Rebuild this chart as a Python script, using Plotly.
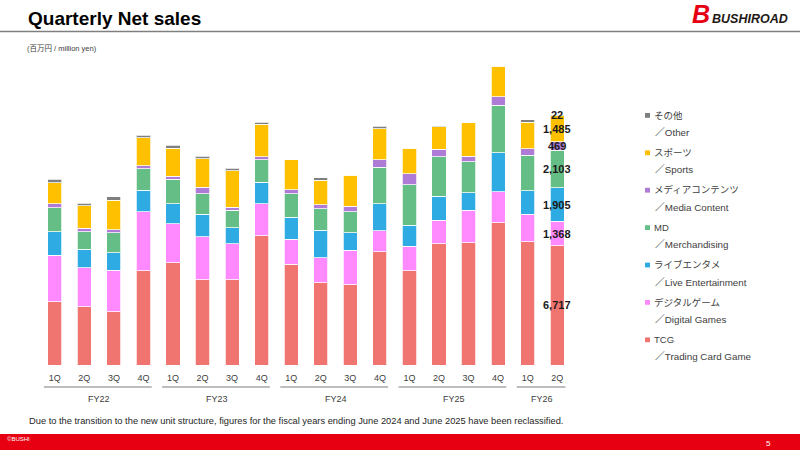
import plotly.graph_objects as go

# ---------------- data (million yen) ----------------
fiscal_years = ["FY22", "FY23", "FY24", "FY25", "FY26"]
quarters_per_year = [4, 4, 4, 4, 2]
quarter_labels = ["1Q", "2Q", "3Q", "4Q",
                  "1Q", "2Q", "3Q", "4Q",
                  "1Q", "2Q", "3Q", "4Q",
                  "1Q", "2Q", "3Q", "4Q",
                  "1Q", "2Q"]

tcg     = [3560, 3280, 3000, 5320, 5750, 4800, 4810, 7290, 5680, 4630, 4520, 6370, 5300, 6840, 6880, 8010, 6940, 6717]
digital = [2630, 2200, 2330, 3310, 2200, 2420, 2030, 1800, 1390, 1420, 1930, 1180, 1390, 1300, 1840, 1750, 1540, 1368]
live    = [1310, 1030, 1000, 1200, 1130, 1260,  880, 1200, 1240, 1540, 1000, 1520, 1180, 1370,  980, 2200, 1330, 1905]
md      = [1350, 1000, 1130, 1220, 1370, 1180,  990, 1280, 1330, 1210, 1180, 2080, 2290, 2220, 1750, 2680, 2000, 2103]
media   = [ 230,  190,  170,  170,  190,  350,  190,  150,  240,  230,  300,  410,  600,  410,  320,  470,  380,  469]
sports  = [1180, 1260, 1650, 1590, 1580, 1620, 2040, 1840, 1690, 1370, 1760, 1750, 1460, 1280, 1880, 1720, 1480, 1485]
other   = [ 190,  150,  190,  130,  150,  130,  130,  110,    0,  150,    0,  130,    0,   70,    0,    0,  140,   22]

segments_bottom_to_top = [
    ("TCG", "／Trading Card Game", tcg),
    ("デジタルゲーム", "／Digital Games", digital),
    ("ライブエンタメ", "／Live Entertainment", live),
    ("MD", "／Merchandising", md),
    ("メディアコンテンツ", "／Media Content", media),
    ("スポーツ", "／Sports", sports),
    ("その他", "／Other", other),
]

title_text = "Quarterly Net sales"
unit_text = "(百万円 / million yen)"
note_text = ("Due to the transition to the new unit structure, figures for the fiscal years "
             "ending June 2024 and June 2025 have been reclassified.")

# ---------------- style ----------------
colors = ["#F07571", "#FF8AFF", "#2EABE2", "#65BE86", "#AE7CD7", "#FFC000", "#7F7F7F"]
FONT = "Liberation Sans, Arial, Noto Sans CJK JP, sans-serif"
JFONT = "Liberation Sans, Noto Sans CJK JP, sans-serif"
L, R, T, B = 40, 228, 60, 85
WIDTH, HEIGHT = 800, 450
W = WIDTH - L - R
H = HEIGHT - T - B
Y_MAX = 17180


def px(x):
    return (x - L) / W


def py(y):
    return (HEIGHT - B - y) / H


n = len(quarter_labels)
xs = list(range(n))

fig = go.Figure()
for (jp, en, vals), col in zip(segments_bottom_to_top, colors):
    fig.add_trace(go.Bar(
        x=xs, y=vals, name=jp + " " + en,
        marker=dict(color=col, line=dict(color="rgba(255,255,255,0.75)", width=1)),
        showlegend=False, hoverinfo="y+name",
    ))

annotations = []
shapes = []

# value labels on the latest quarter (segment centres)
last = n - 1
cum = 0
for (jp, en, vals), col in zip(segments_bottom_to_top, colors):
    v = vals[last]
    annotations.append(dict(
        x=last, y=cum + v / 2, xref="x", yref="y", text=f"{v:,}", showarrow=False,
        font=dict(family=FONT, size=11, color="#1a1a1a", weight="bold"),
        xanchor="center", yanchor="middle",
    ))
    cum += v

# fiscal-year group underlines and labels
start = 0
for fy, cnt in zip(fiscal_years, quarters_per_year):
    a, b = start, start + cnt - 1
    shapes.append(dict(type="line", xref="x", yref="paper",
                       x0=a - 0.37, x1=b + 0.28, y0=py(387), y1=py(387),
                       line=dict(color="#7F7F7F", width=1.2)))
    annotations.append(dict(x=(a + b) / 2, y=py(398.5), xref="x", yref="paper", text=fy,
                            showarrow=False, font=dict(family=FONT, size=9, color="#404040"),
                            xanchor="center", yanchor="middle"))
    start += cnt

# legend (custom, top item = top of stack)
legend_items = list(zip(segments_bottom_to_top, colors))[::-1]
for k, ((jp, en, vals), col) in enumerate(legend_items):
    yt = 115 + 37.4 * k
    shapes.append(dict(type="rect", xref="paper", yref="paper",
                       x0=px(645), x1=px(650), y0=py(yt + 2.8), y1=py(yt - 2),
                       fillcolor=col, line=dict(width=0)))
    annotations.append(dict(x=px(652), y=py(yt), xref="paper", yref="paper", text=jp,
                            showarrow=False, font=dict(family=JFONT, size=9.5, color="#404040"),
                            xanchor="left", yanchor="middle"))
    annotations.append(dict(x=px(653), y=py(yt + 17.5), xref="paper", yref="paper", text=en,
                            showarrow=False, font=dict(family=JFONT, size=9.8, color="#404040"),
                            xanchor="left", yanchor="middle"))

# header
annotations.append(dict(x=px(26), y=py(19), xref="paper", yref="paper", text=title_text,
                        showarrow=False, font=dict(family=FONT, size=19, color="#000000", weight="bold"),
                        xanchor="left", yanchor="middle"))
annotations.append(dict(x=px(25), y=py(48), xref="paper", yref="paper", text=unit_text,
                        showarrow=False, font=dict(family=JFONT, size=7.5, color="#404040"),
                        xanchor="left", yanchor="middle"))
shapes.append(dict(type="line", xref="paper", yref="paper", x0=px(0), x1=px(800),
                   y0=py(31.5), y1=py(31.5), line=dict(color="#7F7F7F", width=1.5)))
# logo
annotations.append(dict(x=px(690), y=py(14), xref="paper", yref="paper", text="<b><i>B</i></b>",
                        showarrow=False, font=dict(family=FONT, size=25, color="#E60012"),
                        xanchor="left", yanchor="middle"))
annotations.append(dict(x=px(710), y=py(19), xref="paper", yref="paper", text="<b><i>BUSHIROAD</i></b>",
                        showarrow=False, font=dict(family=FONT, size=12.5, color="#231815"),
                        xanchor="left", yanchor="middle"))

# footer
annotations.append(dict(x=px(27), y=py(421), xref="paper", yref="paper", text=note_text,
                        showarrow=False, font=dict(family=FONT, size=9.3, color="#262626"),
                        xanchor="left", yanchor="middle"))
shapes.append(dict(type="rect", xref="paper", yref="paper", x0=px(0), x1=px(800),
                   y0=py(450), y1=py(434), fillcolor="#E60012", line=dict(width=0)))
annotations.append(dict(x=px(5), y=py(438.5), xref="paper", yref="paper", text="©BUSHI",
                        showarrow=False, font=dict(family=FONT, size=6, color="#FFFFFF"),
                        xanchor="left", yanchor="middle"))
annotations.append(dict(x=px(768), y=py(443), xref="paper", yref="paper", text="5",
                        showarrow=False, font=dict(family=FONT, size=8, color="#FFFFFF"),
                        xanchor="center", yanchor="middle"))

fig.update_layout(
    width=WIDTH, height=HEIGHT,
    margin=dict(l=L, r=R, t=T, b=B, pad=0),
    barmode="stack", bargap=0.52,
    paper_bgcolor="white", plot_bgcolor="white",
    font=dict(family=FONT, color="#404040"),
    annotations=annotations, shapes=shapes,
    showlegend=False,
)
fig.update_xaxes(range=[-0.5, n - 0.5], tickmode="array", tickvals=xs, ticktext=quarter_labels,
                 tickfont=dict(family=FONT, size=9, color="#404040"),
                 ticks="outside", ticklen=4, tickcolor="rgba(0,0,0,0)",
                 showgrid=False, zeroline=False, showline=False, fixedrange=True)
fig.update_yaxes(range=[0, Y_MAX], visible=False, showgrid=False, zeroline=False, fixedrange=True)

fig.write_html("out.html")
